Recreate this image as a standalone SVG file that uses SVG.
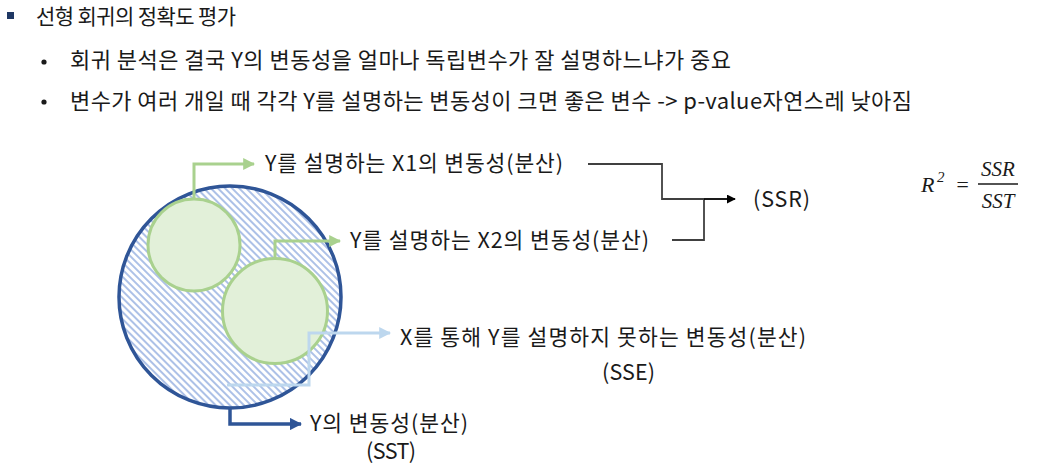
<svg xmlns="http://www.w3.org/2000/svg" width="1042" height="468" viewBox="0 0 1042 468">
<style>
.hdr{font-family:"Noto Sans CJK KR","Noto Sans",sans-serif;fill:#1a1a1a}
.lbl{font-family:"Noto Sans CJK KR","Liberation Sans",sans-serif;font-size:21.5px;fill:#1a1a1a}
.math{font-family:"Liberation Serif",serif;font-style:italic;fill:#1a1a1a}
.conn{fill:none}
</style>
<defs>
<pattern id="hatch" width="5" height="5" patternUnits="userSpaceOnUse" patternTransform="rotate(-45)">
<rect width="5" height="5" fill="#ffffff"/>
<rect x="0" y="0" width="2" height="5" fill="#ADC1E7"/>
</pattern>
<marker id="arrG" viewBox="0 0 10 10" refX="9" refY="5" markerWidth="4" markerHeight="4" orient="auto" markerUnits="strokeWidth"><path d="M0,0L10,5L0,10z" fill="#A9D18E"/></marker>
<marker id="arrB" viewBox="0 0 10 10" refX="9" refY="5" markerWidth="4" markerHeight="4" orient="auto" markerUnits="strokeWidth"><path d="M0,0L10,5L0,10z" fill="#BDD7EE"/></marker>
<marker id="arrN" viewBox="0 0 10 10" refX="9" refY="5" markerWidth="3.5" markerHeight="3.5" orient="auto" markerUnits="strokeWidth"><path d="M0,0L10,5L0,10z" fill="#2F5597"/></marker>
<marker id="arrK" viewBox="0 0 10 10" refX="9" refY="5" markerWidth="5" markerHeight="5" orient="auto" markerUnits="strokeWidth"><path d="M0,0L10,5L0,10z" fill="#000000"/></marker>
</defs>
<rect width="1042" height="468" fill="#ffffff"/>

<g id="header">
<rect x="7" y="12" width="7" height="7" fill="#1F3864"/>
<text class="hdr" x="36" y="24" font-size="21" textLength="200" lengthAdjust="spacing">선형 회귀의 정확도 평가</text>
<circle cx="44" cy="62" r="2.6" fill="#1a1a1a"/>
<text class="hdr" x="70" y="68" font-size="22" textLength="661" lengthAdjust="spacing">회귀 분석은 결국 Y의 변동성을 얼마나 독립변수가 잘 설명하느냐가 중요</text>
<circle cx="44" cy="102" r="2.6" fill="#1a1a1a"/>
<text class="hdr" x="70" y="109" font-size="22" textLength="842" lengthAdjust="spacing">변수가 여러 개일 때 각각 Y를 설명하는 변동성이 크면 좋은 변수 -&gt; p-value자연스레 낮아짐</text>
</g>

<g id="sst-circle">
<circle cx="230" cy="297" r="111" fill="url(#hatch)" stroke="#2F5597" stroke-width="3.5"/>
</g>
<g id="x1-circle">
<circle cx="194" cy="245" r="46" fill="#E2F0D9" stroke="#A9D18E" stroke-width="3"/>
</g>
<g id="x2-circle">
<circle cx="275" cy="311" r="52.5" fill="#E2F0D9" stroke="#A9D18E" stroke-width="3"/>
</g>

<g id="connectors" class="conn">
<path d="M194,199 V164 H254" stroke="#A9D18E" stroke-width="3" marker-end="url(#arrG)"/>
<path d="M275,258 V241 H340" stroke="#A9D18E" stroke-width="3" marker-end="url(#arrG)"/>
<path d="M227,385 H309 V333 H390" stroke="#BDD7EE" stroke-width="3" marker-end="url(#arrB)"/>
<path d="M230,408 V424 H301" stroke="#2F5597" stroke-width="3.5" marker-end="url(#arrN)"/>
<path d="M588,164 H662 V199 H704" stroke="#404040" stroke-width="1.8"/>
<path d="M672,240 H704 V199" stroke="#404040" stroke-width="1.8"/>
<path d="M704,199 H735" stroke="#000000" stroke-width="1.8" marker-end="url(#arrK)"/>
</g>

<g id="label-x1">
<text class="lbl" x="265" y="171" textLength="298" lengthAdjust="spacing">Y를 설명하는 X1의 변동성(분산)</text>
</g>
<g id="label-x2">
<text class="lbl" x="350" y="248" textLength="299" lengthAdjust="spacing">Y를 설명하는 X2의 변동성(분산)</text>
</g>
<g id="label-ssr">
<text class="lbl" x="753" y="207" textLength="57" lengthAdjust="spacing">(SSR)</text>
</g>
<g id="label-sse">
<text class="lbl" x="400" y="345" textLength="406" lengthAdjust="spacing">X를 통해 Y를 설명하지 못하는 변동성(분산)</text>
<text class="lbl" x="602" y="380" textLength="53" lengthAdjust="spacing">(SSE)</text>
</g>
<g id="label-sst">
<text class="lbl" x="310" y="431" textLength="158" lengthAdjust="spacing">Y의 변동성(분산)</text>
<text class="lbl" x="366" y="459" textLength="50" lengthAdjust="spacing">(SST)</text>
</g>

<g id="formula">
<text class="math" x="921" y="192" font-size="22">R</text>
<text class="math" x="937" y="182" font-size="15" font-style="normal">2</text>
<text class="math" x="955" y="192" font-size="22" font-style="normal">=</text>
<text class="math" x="998" y="176" font-size="21" text-anchor="middle">SSR</text>
<line x1="978" y1="184" x2="1018" y2="184" stroke="#1a1a1a" stroke-width="1.3"/>
<text class="math" x="998" y="208" font-size="21" text-anchor="middle">SST</text>
</g>
</svg>
